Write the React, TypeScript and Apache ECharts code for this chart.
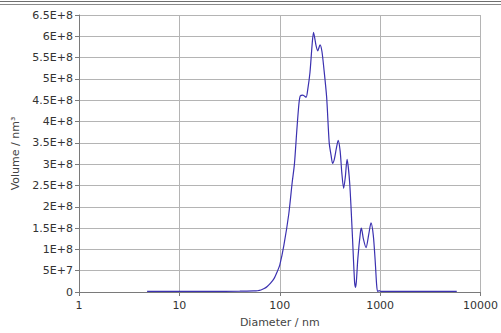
import React, { useEffect, useRef } from "react";
import * as echarts from "echarts";

const diameters = [
  4.77, 10, 20, 40, 55, 60, 65, 70, 75, 81, 88, 94.5, 100, 110, 123, 133, 140, 148, 155, 160, 170, 183,
  190, 200, 210, 217, 230, 239, 252, 263, 275, 293, 311, 325, 336, 350, 365, 382, 400, 415, 433, 450,
  468, 497, 527, 556, 569, 580, 600, 637, 651, 680, 724, 770, 811, 855, 894, 923, 944, 979, 1010, 1200,
  2000, 5800,
];
const volumes = [
  1.5e6, 1.5e6, 1.5e6, 2e6, 2.5e6, 3e6, 4.6e6, 8e6, 1.3e7, 2.1e7, 3.2e7, 4.8e7, 6.3e7, 1.1e8, 1.83e8,
  2.57e8, 3.0e8, 3.8e8, 4.4e8, 4.6e8, 4.62e8, 4.57e8, 4.75e8, 5.15e8, 5.8e8, 6.09e8, 5.78e8, 5.66e8,
  5.8e8, 5.65e8, 5.25e8, 4.58e8, 3.5e8, 3.2e8, 3.02e8, 3.12e8, 3.35e8, 3.56e8, 3.3e8, 2.8e8, 2.43e8,
  2.7e8, 3.11e8, 2.57e8, 1.42e8, 2.5e7, 1.1e7, 2.5e7, 7.9e7, 1.41e8, 1.5e8, 1.25e8, 1.04e8, 1.35e8,
  1.62e8, 1.33e8, 7.1e7, 1.7e7, 1.5e6, 3e6, 1.5e6, 1.5e6, 1.5e6, 1.5e6,
];
const xTickLabels = ["1", "10", "100", "1000", "10000"];

const FONT = "DejaVu Sans";

function fmtY(v: number): string {
  if (v === 0) return "0";
  const e = Math.floor(Math.log10(v) + 1e-9);
  const m = parseFloat((v / Math.pow(10, e)).toFixed(3));
  return `${m}E+${e}`;
}

export default function App() {
  const ref = useRef<HTMLDivElement>(null);
  useEffect(() => {
    if (!ref.current) return;
    const chart = echarts.init(ref.current, undefined, { renderer: "svg" });
    const data = diameters.map((d, i) => [d, volumes[i]]);
    chart.setOption({
      animation: false,
      backgroundColor: "#ffffff",
      textStyle: { fontFamily: FONT },
      grid: { left: 79, right: 16, top: 15, bottom: 38, containLabel: false },
      graphic: [
        { type: "line", shape: { x1: 0, y1: 1.5, x2: 501, y2: 1.5 }, style: { stroke: "#6f6f6f", lineWidth: 1 } },
        { type: "line", shape: { x1: 0, y1: 4.5, x2: 501, y2: 4.5 }, style: { stroke: "#8a8a8a", lineWidth: 1 } },
      ],
      xAxis: {
        type: "log",
        logBase: 10,
        min: 1,
        max: 10000,
        name: "Diameter / nm",
        nameLocation: "middle",
        nameGap: 25,
        nameTextStyle: { color: "#444", fontSize: 11, fontFamily: FONT },
        axisLine: { show: true, lineStyle: { color: "#7a7a7a", width: 1 } },
        axisTick: { show: true, inside: false, length: 4, lineStyle: { color: "#7a7a7a" } },
        minorTick: { show: false },
        axisLabel: {
          color: "#333",
          fontSize: 11,
          fontFamily: FONT,
          margin: 8,
          formatter: (v: number) => {
            const i = Math.round(Math.log10(v));
            return xTickLabels[i] ?? String(Math.round(v));
          },
        },
        splitLine: { show: true, lineStyle: { color: "#b4b4b4", width: 1 } },
      },
      yAxis: {
        type: "value",
        min: 0,
        max: 6.5e8,
        interval: 5e7,
        name: "Volume / nm³",
        nameLocation: "middle",
        nameGap: 53,
        nameTextStyle: { color: "#444", fontSize: 11, fontFamily: FONT },
        axisLine: { show: true, lineStyle: { color: "#7a7a7a", width: 1 } },
        axisTick: { show: true, inside: false, length: 4, lineStyle: { color: "#7a7a7a" } },
        axisLabel: { color: "#333", fontSize: 11, fontFamily: FONT, margin: 6, formatter: fmtY },
        splitLine: { show: true, lineStyle: { color: "#b4b4b4", width: 1 } },
      },
      series: [
        {
          type: "line",
          data,
          smooth: 0.25,
          showSymbol: false,
          symbol: "none",
          lineStyle: { color: "#3b31b0", width: 1.2 },
        },
      ],
    });
    return () => chart.dispose();
  }, []);
  return (
    <div
      ref={ref}
      style={{ position: "fixed", left: 0, top: 0, width: 501, height: 333, background: "#fff" }}
    />
  );
}
